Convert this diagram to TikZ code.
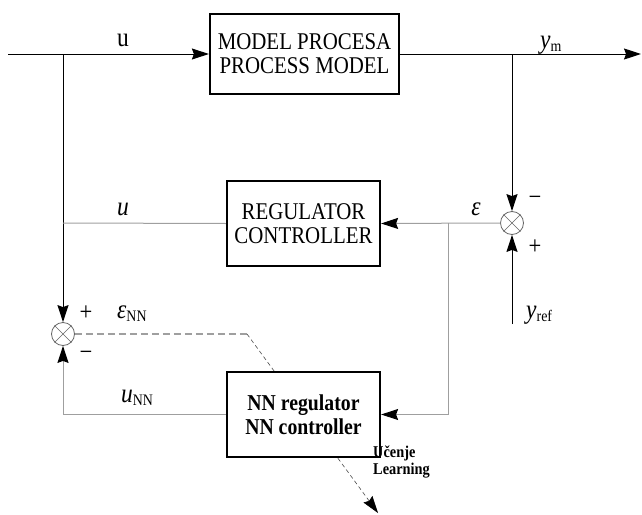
\documentclass[tikz,border=0pt]{standalone}
\usepackage{fontspec}
\setmainfont[FakeStretch=0.87]{Liberation Serif}
\usetikzlibrary{arrows.meta}
\newcommand{\lowsub}[1]{\raisebox{-0.3ex}{\fontsize{16}{16}\selectfont\upshape #1}}
\begin{document}
\begin{tikzpicture}[x=1pt,y=-1pt,
  blk/.style={draw=black, line width=2.2pt, fill=white, minimum width=153pt, minimum height=85pt, inner sep=0pt, align=center, font=\fontsize{24}{24}\selectfont},
  sumj/.style={circle, draw=gray!80!black, line width=0.8pt, minimum size=23pt, inner sep=0pt, fill=white},
  sig/.style={line width=1pt, draw=black},
  gsig/.style={line width=1pt, draw=gray!75},
  arr/.style={-{Stealth[length=17pt,width=11pt,inset=2pt,color=black]}},
  lbl/.style={font=\fontsize{27}{27}\selectfont\itshape, inner sep=0pt},
  sgn/.style={font=\fontsize{26}{26}\selectfont, inner sep=0pt},
  learnlbl/.style={font=\fontsize{16.5}{17}\selectfont\bfseries, inner sep=0pt, align=left}]
\useasboundingbox (0,0) rectangle (642,514);
% nodes
\node[blk, minimum width=189pt, minimum height=80pt] (model) at (304.5,54) {MODEL PROCESA\\PROCESS MODEL};
\node[blk] (reg) at (303.5,223.5) {REGULATOR\\CONTROLLER};
\node[sumj] (sr) at (512,223) {};
\node[sumj] (sl) at (63,334) {};
\draw[gray!80!black, line width=0.6pt] (sr.north east)--(sr.south west) (sr.north west)--(sr.south east);
\draw[gray!80!black, line width=0.6pt] (sl.north east)--(sl.south west) (sl.north west)--(sl.south east);
% coordinates
\coordinate (inp) at (8,54);
\coordinate (outp) at (641,54);
\coordinate (brL) at (63,54);
\coordinate (brR) at (512,54);
\coordinate (brU) at (63,223);
\coordinate (epsB) at (448,223);
\coordinate (yref) at (512,324);
\coordinate (dk) at (247,334);
\coordinate (learn) at (378,513);
% learning dashed line (behind NN box)
\draw[gray!75, line width=1.2pt, dash pattern=on 7pt off 4pt] (sl.east) -- (dk);
\draw[gray!60!black, line width=0.6pt, dash pattern=on 4pt off 3pt, arr] (dk) -- (learn);
\node[blk, font=\fontsize{22.7}{24}\selectfont\bfseries] (nn) at (303.5,414.5) {NN regulator\\NN controller};
% connectors
\draw[sig, arr] (inp) -- (model.west);
\draw[sig, arr] (model.east) -- (outp);
\draw[sig, arr] (brL) -- (sl.north);
\draw[sig, arr] (brR) -- (sr.north);
\draw[gsig] (brU) -- (reg.west);
\draw[gsig, arr] (sr.west) -- (reg.east);
\draw[gsig, arr] (epsB) |- (nn.east);
\draw[sig, arr] (yref) -- (sr.south);
\draw[gsig, arr] (nn.west) -| (sl.south);
% labels
\node[font=\fontsize{27}{27}\selectfont, inner sep=0pt, anchor=base] (lu) at (123,46) {u};
\node[lbl, anchor=base west] (lym) at (540,48) {y\lowsub{m}};
\node[lbl, anchor=base] (lu2) at (123,215) {u};
\node[lbl, anchor=base] (leps) at (476,215) {ε};
\node[sgn] (mr) at (535,201) {−};
\node[sgn] (pr) at (535,247) {+};
\node[lbl, anchor=base west] (lyref) at (526,318) {y\lowsub{ref}};
\node[sgn] (pl) at (86,313) {+};
\node[sgn] (ml) at (86,356) {−};
\node[lbl, anchor=base west] (lepsnn) at (117,318) {ε\lowsub{NN}};
\node[lbl, anchor=base west] (lunn) at (121,402) {u\lowsub{NN}};
\node[learnlbl, anchor=base west] (llearn) at (373,474) {Učenje\\Learning};
\end{tikzpicture}
\end{document}
